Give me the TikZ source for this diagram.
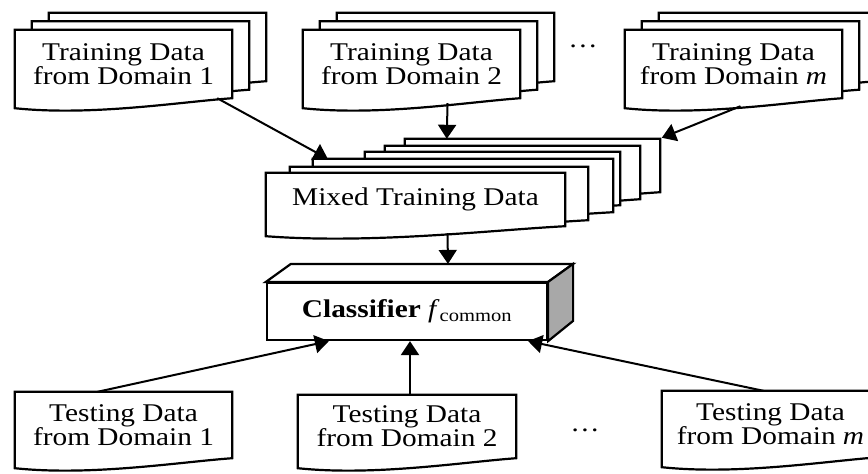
\documentclass[tikz,border=0pt]{standalone}
\usepackage{fontspec}
\setmainfont{Liberation Serif}[FakeStretch=1.15]
\usepackage{tikz}
\usetikzlibrary{positioning, arrows.meta, calc, backgrounds}
\definecolor{sideface}{RGB}{168,168,168}
\newcommand{\labelfont}{\fontsize{25.5}{24}\selectfont}
\tikzset{
  page/.style={draw=black, line width=2.2pt, fill=white, line join=miter},
  docnode/.style={align=center, inner sep=0pt, minimum width=217pt,
    minimum height=68pt, font=\labelfont},
  boxnode/.style={draw=black, line width=2.2pt, fill=white, inner sep=0pt,
    minimum width=280pt, minimum height=57pt, font=\labelfont},
  flow/.style={-{Triangle[length=14pt,width=18pt]}, line width=2pt},
}
% one sheet with a wavy bottom edge, taken from a node's frame
% #1 node, #2 left shift, #3 right shift, #4 vertical shift
\newcommand{\paperpage}[4]{%
  \coordinate (pgL) at ($(#1.south west)+(#2,#4)$);
  \coordinate (pgR) at ($(#1.south east)+(#3,#4)$);
  \draw[page] ($(#1.north west)+(#2,#4)$) -- ($(#1.north east)+(#3,#4)$)
    -- (pgR) .. controls ($(pgR)!0.25!(pgL)+(0,4)$) and ($(pgR)!0.65!(pgL)+(0,18)$)
    .. ($(pgL)+(0,10)$) -- cycle;
}

\begin{document}
\begin{tikzpicture}[x=1pt, y=-1pt]
  \useasboundingbox (0,0) rectangle (868,474);

  % training sets
  \node[docnode] (train1) at (123.5,64) {Training Data\\from Domain 1};
  \node[docnode] (train2) at (411.5,64) {Training Data\\from Domain 2};
  \node[docnode] (trainm) at (733.5,64) {Training Data\\from Domain \textit{m}};
  \node[font=\labelfont] (dotstop) at (583,46) {\dots};

  \begin{scope}[on background layer]
    \foreach \doc in {train1, train2, trainm} {
      \paperpage{\doc}{34}{34}{-17}
      \paperpage{\doc}{17}{17}{-8.5}
      \paperpage{\doc}{0}{0}{0}
    }
  \end{scope}

  % merged stack
  \node[docnode, minimum width=299pt, minimum height=53pt] (mixed) at (415.5,199.5)
    {Mixed Training Data};
  \begin{scope}[on background layer]
    \paperpage{mixed}{139}{95}{-34}
    \paperpage{mixed}{119}{75}{-27}
    \paperpage{mixed}{99}{55}{-21}
    \paperpage{mixed}{47}{48}{-14}
    \paperpage{mixed}{24}{23}{-6}
    \paperpage{mixed}{0}{0}{0}
  \end{scope}

  % classifier block
  \node[boxnode] (clf) at (407,311.5)
    {\textbf{Classifier} \textit{f}\textsubscript{common}};
  \draw[line width=2.2pt, fill=white, line join=miter]
    (clf.north west) -- ++(25,-18) -- ($(clf.north east)+(25,-18)$) -- (clf.north east) -- cycle;
  \draw[line width=2.2pt, fill=sideface, line join=miter]
    (clf.north east) -- ++(25,-18) -- ++(0,57) -- (clf.south east) -- cycle;

  % testing sets
  \node[docnode, minimum height=66pt] (test1) at (123.5,425) {Testing Data\\from Domain 1};
  \node[docnode, minimum width=218pt, minimum height=63pt] (test2) at (407,426.5)
    {Testing Data\\from Domain 2};
  \node[docnode, minimum height=66pt] (testm) at (770.5,424) {Testing Data\\from Domain \textit{m}};
  \node[font=\labelfont] (dotsbot) at (585,430) {\dots};

  \begin{scope}[on background layer]
    \foreach \doc in {test1, test2, testm} {
      \paperpage{\doc}{0}{0}{0}
    }
  \end{scope}

  % arrows
  \coordinate (mixtip1) at ($(mixed.north west)+(62,-14)$);
  \coordinate (mixtip2) at ($(mixed.north west)+(181,-34)$);
  \coordinate (mixtip3) at ($(mixed.north west)+(396,-35)$);
  \draw[flow] ($(train1.south east)+(-15,0)$) -- (mixtip1);
  \draw[flow] ($(train2.south)+(36,5)$) -- (mixtip2);
  \draw[flow] ($(trainm.south)+(7,8)$) -- (mixtip3);
  \draw[flow] ($(mixed.south)+(32,7)$) -- ($(clf.north)+(41,-18)$);
  \draw[flow] ($(test1.north)+(-26,0)$) -- ($(clf.south west)+(63,0)$);
  \draw[flow] ($(test2.north)+(3,0)$) -- ($(clf.south)+(3,0)$);
  \draw[flow] ($(testm.north)+(-7,0)$) -- ($(clf.south east)+(-20,0)$);
\end{tikzpicture}
\end{document}
